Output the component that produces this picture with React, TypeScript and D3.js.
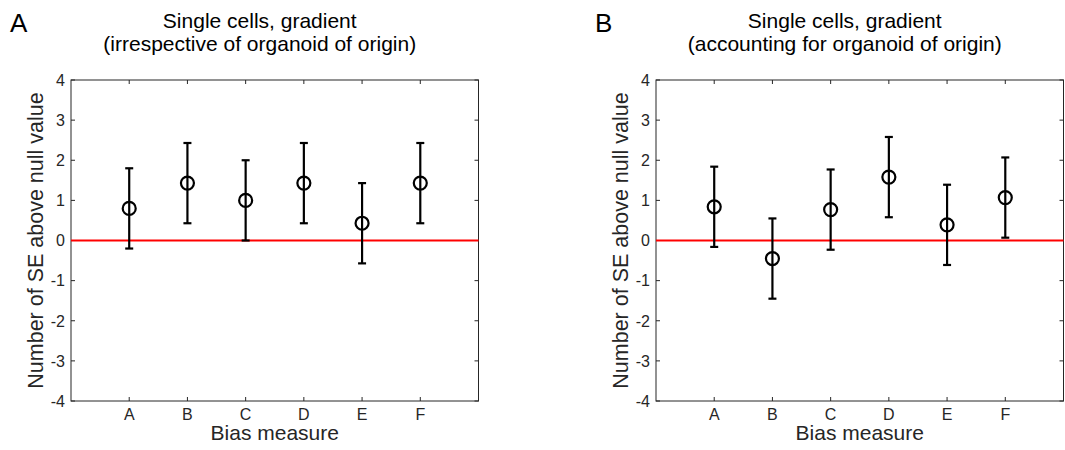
import React, { useEffect, useRef } from 'react';
import * as d3 from 'd3';

// bias measures on the x axis
const categories = ['A', 'B', 'C', 'D', 'E', 'F'];
// number of SE above null value
const valuesA = [0.8, 1.43, 1.0, 1.43, 0.43, 1.43];
const valuesB = [0.84, -0.45, 0.77, 1.58, 0.39, 1.07];
// error bar half-widths (+-1 SE)
const errA = [1, 1, 1, 1, 1, 1];
const errB = [1, 1, 1, 1, 1, 1];
const yTicks = [-4, -3, -2, -1, 0, 1, 2, 3, 4];
const panelLetters = ['A', 'B'];
const titleLine1 = ['Single cells, gradient', 'Single cells, gradient'];
const titleLine2 = ['(irrespective of organoid of origin)', '(accounting for organoid of origin)'];

const FONT = '"Liberation Sans", Arial, Helvetica, sans-serif';
const AXIS = '#262626';

export default function App() {
  const svgRef = useRef<SVGSVGElement | null>(null);

  useEffect(() => {
    document.body.style.margin = '0';
    const svg = d3.select(svgRef.current);
    svg.selectAll('*').remove();

    const top = 80;
    const bottom = 401;
    const lefts = [71, 656];
    const plotW = 407.5;

    const y = d3.scaleLinear().domain([-4, 4]).range([bottom, top]);

    const panelData = [
      { values: valuesA, errs: errA },
      { values: valuesB, errs: errB },
    ];

    panelData.forEach((p, pi) => {
      const left = lefts[pi];
      const right = left + plotW;
      const x = d3.scaleLinear().domain([0, 7]).range([left, right]);
      const cx = (left + right) / 2;
      const g = svg.append('g');

      // panel letter
      g.append('text')
        .attr('x', left - 61)
        .attr('y', 32)
        .attr('font-family', FONT)
        .attr('font-size', 26)
        .attr('fill', '#000')
        .text(panelLetters[pi]);

      // title (two lines)
      [titleLine1[pi], titleLine2[pi]].forEach((t, li) => {
        g.append('text')
          .attr('x', cx - 15)
          .attr('y', 28 + li * 23)
          .attr('text-anchor', 'middle')
          .attr('font-family', FONT)
          .attr('font-size', 21)
          .attr('fill', '#000')
          .text(t);
      });

      // ticks on all four sides, pointing inward
      const tl = 4;
      yTicks.forEach((t) => {
        g.append('line')
          .attr('x1', left).attr('x2', left + tl)
          .attr('y1', y(t)).attr('y2', y(t))
          .attr('stroke', AXIS).attr('stroke-width', 1);
        g.append('line')
          .attr('x1', right).attr('x2', right - tl)
          .attr('y1', y(t)).attr('y2', y(t))
          .attr('stroke', AXIS).attr('stroke-width', 1);
        g.append('text')
          .attr('x', left - 6)
          .attr('y', y(t))
          .attr('dy', '0.36em')
          .attr('text-anchor', 'end')
          .attr('font-family', FONT)
          .attr('font-size', 16)
          .attr('fill', AXIS)
          .text(String(t));
      });
      categories.forEach((c, i) => {
        const xx = x(i + 1);
        g.append('line')
          .attr('x1', xx).attr('x2', xx)
          .attr('y1', bottom).attr('y2', bottom - tl)
          .attr('stroke', AXIS).attr('stroke-width', 1);
        g.append('line')
          .attr('x1', xx).attr('x2', xx)
          .attr('y1', top).attr('y2', top + tl)
          .attr('stroke', AXIS).attr('stroke-width', 1);
        g.append('text')
          .attr('x', xx)
          .attr('y', bottom + 19)
          .attr('text-anchor', 'middle')
          .attr('font-family', FONT)
          .attr('font-size', 16)
          .attr('fill', AXIS)
          .text(c);
      });

      // box
      g.append('rect')
        .attr('x', left).attr('y', top)
        .attr('width', plotW).attr('height', bottom - top)
        .attr('fill', 'none')
        .attr('stroke', AXIS).attr('stroke-width', 1);

      // axis labels
      g.append('text')
        .attr('x', cx)
        .attr('y', bottom + 39)
        .attr('text-anchor', 'middle')
        .attr('font-family', FONT)
        .attr('font-size', 21)
        .attr('fill', AXIS)
        .text('Bias measure');
      g.append('text')
        .attr('transform', `translate(${left - 28}, ${(top + bottom) / 2}) rotate(-90)`)
        .attr('text-anchor', 'middle')
        .attr('font-family', FONT)
        .attr('font-size', 21.5)
        .attr('fill', AXIS)
        .text('Number of SE above null value');

      // null line
      g.append('line')
        .attr('x1', left).attr('x2', right)
        .attr('y1', y(0)).attr('y2', y(0))
        .attr('stroke', '#ff0000').attr('stroke-width', 2);

      // error bars
      const capW = 4;
      p.values.forEach((v, i) => {
        const xx = x(i + 1);
        const lo = y(v - p.errs[i]);
        const hi = y(v + p.errs[i]);
        g.append('line')
          .attr('x1', xx).attr('x2', xx)
          .attr('y1', lo).attr('y2', hi)
          .attr('stroke', '#000').attr('stroke-width', 2.2);
        [lo, hi].forEach((yy) => {
          g.append('line')
            .attr('x1', xx - capW).attr('x2', xx + capW)
            .attr('y1', yy).attr('y2', yy)
            .attr('stroke', '#000').attr('stroke-width', 2.2);
        });
        g.append('circle')
          .attr('cx', xx).attr('cy', y(v))
          .attr('r', 6.5)
          .attr('fill', 'none')
          .attr('stroke', '#000').attr('stroke-width', 2.2);
      });
    });
  }, []);

  return <svg ref={svgRef} width={1065} height={450} style={{ display: 'block', background: '#fff' }} />;
}
